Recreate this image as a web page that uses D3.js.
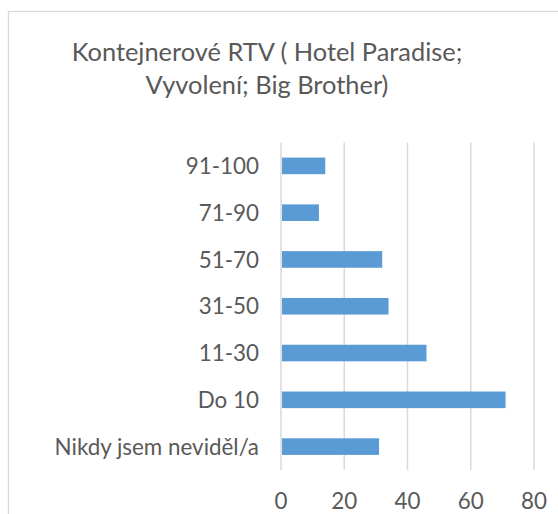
<!DOCTYPE html>
<html>
<head>
<meta charset="utf-8">
<script src="https://cdn.jsdelivr.net/npm/d3@7"></script>
<style>
  html, body { margin: 0; padding: 0; background: #fff; }
  svg { display: block; }
  text { font-family: Lato, "Open Sans", sans-serif; fill: #595959; }
</style>
</head>
<body>
<svg id="chart" width="558" height="514"></svg>
<script>
// Kontejnerové RTV - horizontal bar chart

const categories = ['91-100', '71-90', '51-70', '31-50', '11-30', 'Do 10', 'Nikdy jsem neviděl/a'];
const values = [14, 12, 32, 34, 46, 71, 31];
const tickValues = [0, 20, 40, 60, 80];
const titleLines = ['Kontejnerové RTV ( Hotel Paradise;', 'Vyvolení; Big Brother)'];

const svg = d3.select('#chart');
const width = 558, height = 514;

// chart frame (right and bottom edges fall outside the picture)
svg.append('rect')
    .attr('x', 8.5)
    .attr('y', 11.5)
    .attr('width', 600)
    .attr('height', 600)
    .attr('fill', '#fff')
    .attr('stroke', '#d9d9d9')
    .attr('stroke-width', 1.3);

const margin = { top: 142.5, left: 281, right: 24, bottom: 44 };
const plotW = width - margin.left - margin.right;
const plotH = height - margin.top - margin.bottom;

const x = d3.scaleLinear().domain([0, 80]).range([0, plotW]);
const y = d3.scaleBand().domain(categories).range([0, plotH]).paddingInner(0.645).paddingOuter(0.3225);

const g = svg.append('g').attr('transform', `translate(${margin.left},${margin.top})`);

// vertical gridlines
g.append('g')
    .selectAll('line')
    .data(tickValues)
    .enter()
    .append('line')
    .attr('x1', d => x(d))
    .attr('x2', d => x(d))
    .attr('y1', 0)
    .attr('y2', plotH)
    .attr('stroke', '#d9d9d9')
    .attr('stroke-width', 1.5);

// bars
g.append('g')
    .selectAll('rect')
    .data(values)
    .enter()
    .append('rect')
    .attr('x', x(0) + 1)
    .attr('y', (d, i) => y(categories[i]))
    .attr('width', d => x(d) - x(0) - 1)
    .attr('height', y.bandwidth())
    .attr('fill', '#5b9bd5');

// category labels
g.append('g')
    .selectAll('text')
    .data(categories)
    .enter()
    .append('text')
    .attr('x', -22)
    .attr('y', d => y(d) + y.bandwidth() / 2)
    .attr('dy', '0.36em')
    .attr('text-anchor', 'end')
    .attr('font-size', '22.4px')
    .text(d => d);

// value axis labels
g.append('g')
    .selectAll('text')
    .data(tickValues)
    .enter()
    .append('text')
    .attr('x', d => x(d))
    .attr('y', plotH + 39)
    .attr('text-anchor', 'middle')
    .attr('font-size', '22.4px')
    .text(d => d);

// title
svg.append('g')
    .selectAll('text')
    .data(titleLines)
    .enter()
    .append('text')
    .attr('x', 267)
    .attr('y', (d, i) => 61 + i * 33)
    .attr('text-anchor', 'middle')
    .attr('font-size', '25.4px')
    .text(d => d);
</script>
</body>
</html>
